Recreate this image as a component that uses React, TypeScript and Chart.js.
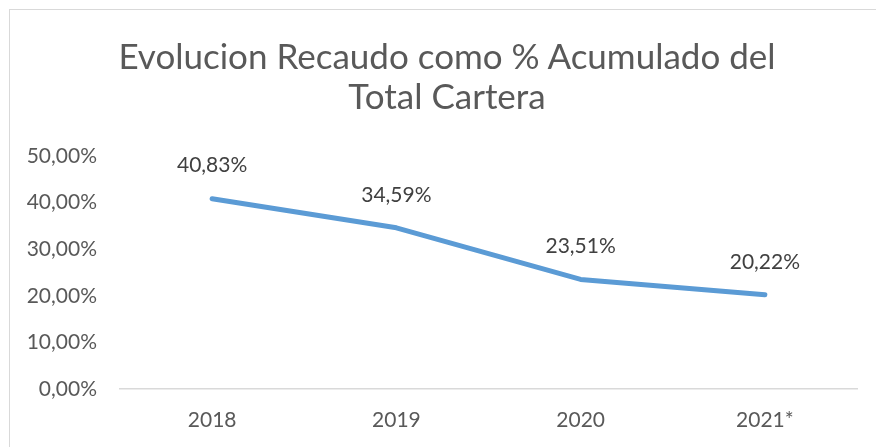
import React, { useEffect, useRef } from "react";
import { Chart, registerables } from "chart.js";

Chart.register(...registerables);

const categories = ["2018", "2019", "2020", "2021*"];
const recaudoPct = [40.83, 34.59, 23.51, 20.22];
const titleLines = ["Evolucion Recaudo como % Acumulado del", "Total Cartera"];

const fmt = (v: number) => v.toFixed(2).replace(".", ",") + "%";

const FONT = "Lato";

const dataLabelPlugin = {
  id: "dataLabels",
  afterDatasetsDraw(chart: any) {
    const ctx = chart.ctx;
    const meta = chart.getDatasetMeta(0);
    ctx.save();
    ctx.font = `21px ${FONT}`;
    ctx.fillStyle = "#404040";
    ctx.textAlign = "center";
    ctx.textBaseline = "middle";
    meta.data.forEach((pt: any, i: number) => {
      ctx.fillText(fmt(recaudoPct[i]), pt.x, pt.y - 33);
    });
    ctx.restore();
  },
};

export default function App() {
  const ref = useRef<HTMLCanvasElement | null>(null);
  useEffect(() => {
    if (!ref.current) return;
    const chart = new Chart(ref.current, {
      type: "line",
      data: {
        labels: categories,
        datasets: [
          {
            data: recaudoPct,
            borderColor: "#5B9BD5",
            borderWidth: 5,
            borderCapStyle: "round",
            borderJoinStyle: "round",
            pointRadius: 0,
            tension: 0,
            fill: false,
          },
        ],
      },
      options: {
        animation: false,
        responsive: false,
        layout: { padding: { left: 0, right: 19, top: 146, bottom: 0 } },
        plugins: {
          legend: { display: false },
          tooltip: { enabled: false },
          title: { display: false },
        },
        scales: {
          x: {
            offset: true,
            grid: { display: false, drawTicks: false },
            border: { display: true, color: "#D9D9D9", width: 1.5 },
            afterFit(scale: any) {
              scale.height = 58;
            },
            ticks: {
              color: "#595959",
              font: { family: FONT, size: 21 },
              padding: 19,
            },
          },
          y: {
            min: 0,
            max: 50,
            grid: { display: false, drawTicks: false },
            border: { display: false },
            afterFit(scale: any) {
              scale.width = 110;
            },
            ticks: {
              stepSize: 10,
              color: "#595959",
              font: { family: FONT, size: 21 },
              padding: 23,
              callback: (v: any) => fmt(Number(v)),
            },
          },
        },
      },
      plugins: [dataLabelPlugin],
    });
    return () => chart.destroy();
  }, []);
  return (
    <div
      style={{
        position: "absolute",
        left: 9,
        top: 9,
        width: 867,
        height: 438,
        borderTop: "1px solid #D9D9D9",
        borderLeft: "1px solid #D9D9D9",
        background: "#fff",
        overflow: "hidden",
      }}
    >
      <canvas ref={ref} width={866} height={437} style={{ display: "block" }} />
      <div
        style={{
          position: "absolute",
          left: 0,
          top: 25,
          width: 874,
          textAlign: "center",
          fontFamily: FONT,
          fontSize: 35,
          lineHeight: "40px",
          color: "#595959",
          whiteSpace: "nowrap",
        }}
      >
        {titleLines.map((t) => (
          <div key={t}>{t}</div>
        ))}
      </div>
    </div>
  );
}
